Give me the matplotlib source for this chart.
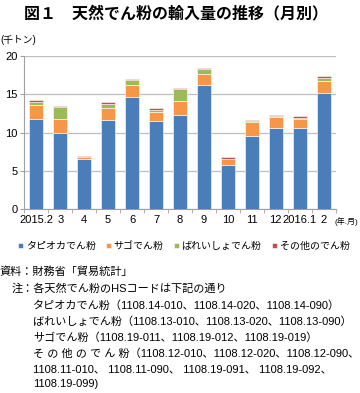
import matplotlib
matplotlib.use('Agg')
import numpy as np
import matplotlib.pyplot as plt

plt.rcParams['font.family'] = ['Liberation Sans', 'Noto Sans CJK JP']

# データ（千トン）
months = ['2015.2', '3', '4', '5', '6', '7', '8', '9', '10', '11', '12', '2016.1', '2']
tapioca = [11.8, 9.9, 6.5, 11.6, 14.7, 11.55, 12.25, 16.2, 5.8, 9.6, 10.6, 10.6, 15.2]
sago = [1.75, 1.9, 0.25, 1.6, 1.5, 1.15, 1.85, 1.5, 0.75, 1.8, 1.4, 1.2, 1.5]
potato = [0.45, 1.5, 0.02, 0.55, 0.6, 0.3, 1.6, 0.55, 0.05, 0.1, 0.2, 0.15, 0.45]
other = [0.25, 0.2, 0.1, 0.3, 0.2, 0.2, 0.15, 0.15, 0.25, 0.15, 0.15, 0.15, 0.2]
series_names = ['タピオカでん粉', 'サゴでん粉', 'ばれいしょでん粉', 'その他のでん粉']
colors = ['#4A7EBB', '#F79646', '#9BBB59', '#C0504D']

fig = plt.figure(figsize=(3.6, 3.93), dpi=100)
ax = fig.add_axes([0.0675, 0.468, 0.865, 0.3895])

x = np.arange(len(months))
bottom = np.zeros(len(months))
handles = []
for vals, name, c in zip([tapioca, sago, potato, other], series_names, colors):
    b = ax.bar(x, vals, 0.58, bottom=bottom, color=c, edgecolor='white', linewidth=0.4, label=name, zorder=3)
    handles.append(b)
    bottom += np.array(vals)

ax.set_xlim(-0.5, len(months) - 0.5)
ax.set_ylim(0, 20)
ax.set_yticks([0, 5, 10, 15, 20])
ax.yaxis.grid(True, color='#BFBFBF', linewidth=0.9, zorder=0)
ax.set_xticks(x)
ax.set_xticklabels(months, fontsize=8)
ax.set_xticks(np.arange(-0.5, len(months)), minor=True)
ax.tick_params(axis='x', which='major', length=0, pad=4)
ax.tick_params(axis='x', which='minor', length=3, color='#A0A0A0')
ax.tick_params(axis='y', length=3, color='#A0A0A0', labelsize=8, pad=2)
for s in ['top', 'right']:
    ax.spines[s].set_visible(False)
for s in ['left', 'bottom']:
    ax.spines[s].set_color('#A0A0A0')
    ax.spines[s].set_linewidth(0.8)

fig.text(0.49, 0.965, '図１　天然でん粉の輸入量の推移（月別）', ha='center', va='center',
         fontsize=11.5, fontweight='bold')
fig.text(0.0, 0.898, '(千トン)', ha='left', va='center', fontsize=7)
fig.text(0.93, 0.437, '(年.月)', ha='left', va='center', fontsize=5.8)

fig.legend(handles=handles, loc='center', bbox_to_anchor=(0.51, 0.374), ncol=4, frameon=False,
           fontsize=7.2, handlelength=0.5, handleheight=0.5, handletextpad=0.3, columnspacing=1.0)

notes = [
    (0.0, 0.308, '資料：財務省「貿易統計」'),
    (0.033, 0.265, '注：各天然でん粉のHSコードは下記の通り'),
    (0.092, 0.222, 'タピオカでん粉（1108.14-010、1108.14-020、1108.14-090）'),
    (0.092, 0.181, 'ばれいしょでん粉（1108.13-010、1108.13-020、1108.13-090）'),
    (0.092, 0.140, 'サゴでん粉（1108.19-011、1108.19-012、1108.19-019）'),
    (0.092, 0.101, 'そ の 他 の で ん 粉（1108.12-010、1108.12-020、1108.12-090、'),
    (0.092, 0.061, '1108.11-010、 1108.11-090、 1108.19-091、 1108.19-092、'),
    (0.092, 0.023, '1108.19-099)'),
]
for nx, ny, t in notes:
    fig.text(nx, ny, t, ha='left', va='center', fontsize=8)

fig.savefig('out.png', dpi=100)
